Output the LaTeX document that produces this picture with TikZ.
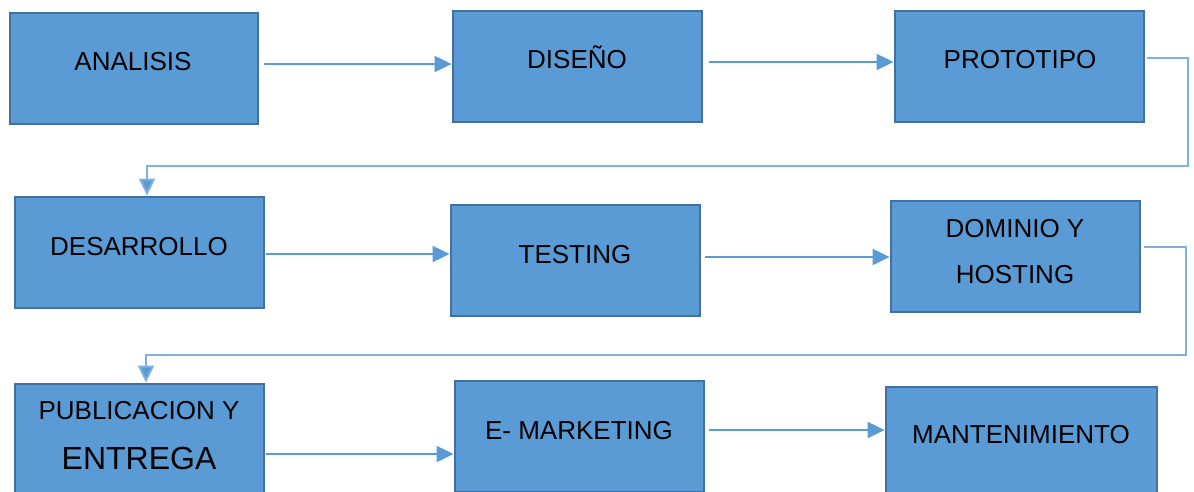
\documentclass[tikz,border=0pt]{standalone}
\usepackage{fontspec}
\setmainfont{Liberation Sans}
\usetikzlibrary{arrows.meta}
\definecolor{boxfill}{HTML}{5B9BD5}
\definecolor{boxline}{HTML}{41719C}
\definecolor{flow}{HTML}{5B9BD5}
\definecolor{flowlight}{HTML}{7FB0E0}
\tikzset{
  stepbox/.style={draw=boxline, line width=2.8pt, fill=boxfill, minimum width=249pt, minimum height=111pt, inner sep=0pt},
  lbl/.style={anchor=base, inner sep=0pt, font=\fontsize{26}{30}\selectfont},
  biglbl/.style={anchor=base, inner sep=0pt, font=\fontsize{32}{36}\selectfont},
  arr/.style={draw=flow, line width=2pt, -{Triangle[length=17pt, width=16pt]}},
  elbow/.style={draw=flowlight, line width=2pt, -{Triangle[length=17pt, width=16pt, fill=flow]}}
}
\begin{document}
\begin{tikzpicture}[x=1pt, y=-1pt]
\useasboundingbox (0,0) rectangle (1194,491);

% boxes
\node[stepbox, minimum width=248pt] (a) at (134,68.5) {};
\node[stepbox] (b) at (577.5,66.5) {};
\node[stepbox] (c) at (1019.5,66.5) {};
\node[stepbox] (d) at (139.5,252.5) {};
\node[stepbox] (e) at (575.5,260.5) {};
\node[stepbox] (f) at (1015.5,256.5) {};
\node[stepbox] (g) at (139.5,439.5) {};
\node[stepbox] (h) at (579.5,436.5) {};
\node[stepbox, minimum width=271pt] (i) at (1021.5,442.5) {};

% labels
\node[lbl] (ta) at (133,70.3) {ANALISIS};
\node[lbl] (tb) at (577,68.3) {DISEÑO};
\node[lbl] (tc) at (1020,68.3) {PROTOTIPO};
\node[lbl] (td) at (139,255.3) {DESARROLLO};
\node[lbl] (te) at (575,263.3) {TESTING};
\node[lbl] (tf1) at (1015,237.3) {DOMINIO Y};
\node[lbl] (tf2) at (1015,283.3) {HOSTING};
\node[lbl] (tg1) at (139,419.3) {PUBLICACION Y};
\node[biglbl] (tg2) at (139,469.5) {ENTREGA};
\node[lbl] (th) at (579,439.3) {E- MARKETING};
\node[lbl] (ti) at (1021,443.3) {MANTENIMIENTO};

% straight connectors
\draw[arr, shorten <=5pt] (a.east |- 0,64) -- (b.west |- 0,64);
\draw[arr, shorten <=6pt] (b.east |- 0,62) -- (c.west |- 0,62);
\draw[arr, shorten <=1pt] (d.east |- 0,254) -- (e.west |- 0,254);
\draw[arr, shorten <=4pt] (e.east |- 0,257) -- (f.west |- 0,257);
\draw[arr, shorten <=1pt] (g.east |- 0,454) -- (h.west |- 0,454);
\draw[arr, shorten <=4pt] (h.east |- 0,430) -- (i.west |- 0,430);

% row-to-row connectors
\draw[elbow, shorten <=2pt] (c.east |- 0,58) -- (1188,58) -- (1188,166) -- (147,166) -- (d.north -| 147,0);
\draw[elbow, shorten <=3pt] (f.east |- 0,247) -- (1186,247) -- (1186,355) -- (146,355) -- (g.north -| 146,0);
\end{tikzpicture}
\end{document}
